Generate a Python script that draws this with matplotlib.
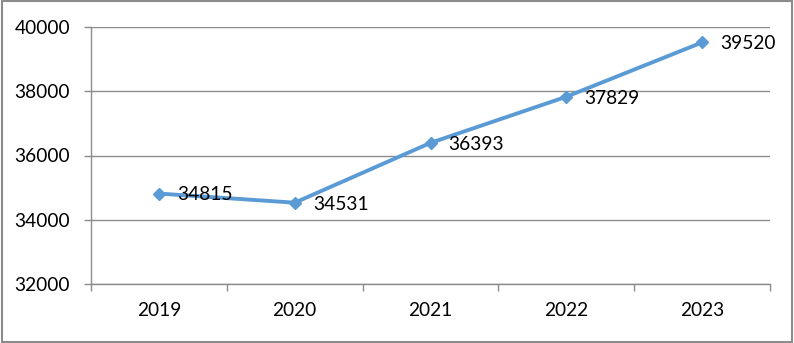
import matplotlib.pyplot as plt
from matplotlib.patches import Rectangle

# data
years = ["2019", "2020", "2021", "2022", "2023"]
values = [34815, 34531, 36393, 37829, 39520]
y_ticks = [32000, 34000, 36000, 38000, 40000]

plt.rcParams['font.family'] = ['Lato', 'DejaVu Sans']

fig = plt.figure(figsize=(7.94, 3.43), dpi=100)
ax = fig.add_axes([91 / 794, 1 - 284 / 343, 679 / 794, 257 / 343])

grid_col = "#8c8c8c"
line_col = "#5b9bd5"

x = list(range(len(years)))
ax.plot(x, values, color=line_col, linewidth=2.8, marker="D", markersize=6.5,
        markerfacecolor=line_col, markeredgecolor=line_col, zorder=3)

# data labels to the right of each point
for xi, v in zip(x, values):
    ax.annotate(str(v), (xi, v), xytext=(13, -1), textcoords="offset points",
                ha="left", va="center", fontsize=13.8, color="black", zorder=4)

ax.set_xlim(-0.5, len(years) - 0.5)
ax.set_ylim(32000, 40000)

# y axis
ax.set_yticks(y_ticks)
ax.set_yticklabels([str(t) for t in y_ticks])
ax.yaxis.grid(True, color=grid_col, linewidth=1)
ax.tick_params(axis="y", length=5, width=1, color=grid_col, pad=10, labelsize=13.8)

# x axis: tick marks between categories, labels at the centres
ax.set_xticks([i - 0.5 for i in range(len(years) + 1)])
ax.set_xticklabels([])
ax.set_xticks(x, minor=True)
ax.set_xticklabels(years, minor=True)
ax.tick_params(axis="x", which="major", length=5, width=1, color=grid_col)
ax.tick_params(axis="x", which="minor", length=0, pad=13, labelsize=13.8)

for side in ["top", "right"]:
    ax.spines[side].set_visible(False)
for side in ["left", "bottom"]:
    ax.spines[side].set_color(grid_col)
    ax.spines[side].set_linewidth(1)
ax.set_axisbelow(True)

# outer border of the chart area
fig.patches.append(Rectangle((0.002, 0.003), 0.996, 0.994, transform=fig.transFigure,
                             fill=False, edgecolor="#8c8c8c", linewidth=1.5))

fig.savefig("out.png", dpi=100)
